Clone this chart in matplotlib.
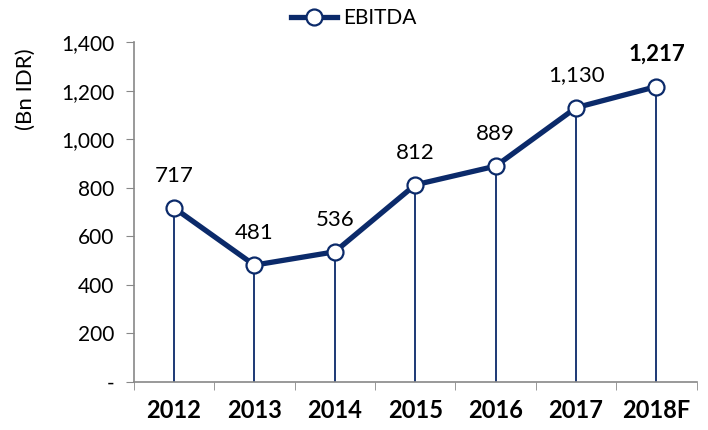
import numpy as np
import matplotlib.pyplot as plt

years = ['2012', '2013', '2014', '2015', '2016', '2017', '2018F']
ebitda = [717, 481, 536, 812, 889, 1130, 1217]
yticks = [0, 200, 400, 600, 800, 1000, 1200, 1400]
ytick_labels = ['-', '200', '400', '600', '800', '1,000', '1,200', '1,400']

navy = '#0b2a6a'
plt.rcParams['font.family'] = ['Lato', 'DejaVu Sans']

fig = plt.figure(figsize=(7.08, 4.3), dpi=100)
ax = fig.add_axes([0.189, 0.112, 0.795, 0.79])

x = np.arange(len(years))

# drop lines from each point down to zero
ax.vlines(x, 0, ebitda, color=navy, lw=1.3, zorder=1)
ax.plot(x, ebitda, color=navy, lw=3.8, marker='o', ms=11.5,
        mfc='white', mec=navy, mew=1.6, label='EBITDA', zorder=3)

# value labels
for i, v in enumerate(ebitda):
    bold = (i == len(ebitda) - 1)
    ax.annotate(f'{v:,}', (x[i], v), xytext=(0, 16), textcoords='offset points',
                ha='center', va='bottom', fontsize=16,
                fontweight='bold' if bold else 'normal', color='black')

ax.set_xlim(-0.5, len(years) - 0.5)
ax.set_ylim(0, 1400)
ax.set_yticks(yticks)
ax.set_yticklabels(ytick_labels, fontsize=15)
ax.set_xticks(x)
ax.set_xticklabels(years, fontsize=17, fontweight='bold')
ax.set_xticks(np.arange(len(years) + 1) - 0.5, minor=True)
ax.tick_params(axis='x', which='major', length=0, pad=12)
ax.tick_params(axis='x', which='minor', length=6, color='#888888', direction='out')
ax.tick_params(axis='y', length=6, color='#888888', direction='out', pad=8)

for s in ['top', 'right']:
    ax.spines[s].set_visible(False)
for s in ['left', 'bottom']:
    ax.spines[s].set_color('#888888')
    ax.spines[s].set_linewidth(1.2)

fig.text(0.037, 0.793, '(Bn IDR)', rotation=90, ha='center', va='center', fontsize=16)

leg = fig.legend(loc='upper center', bbox_to_anchor=(0.5, 1.025), frameon=False,
                 fontsize=15, handlelength=2.2, handletextpad=0.3)

fig.savefig('out.png', dpi=100)
